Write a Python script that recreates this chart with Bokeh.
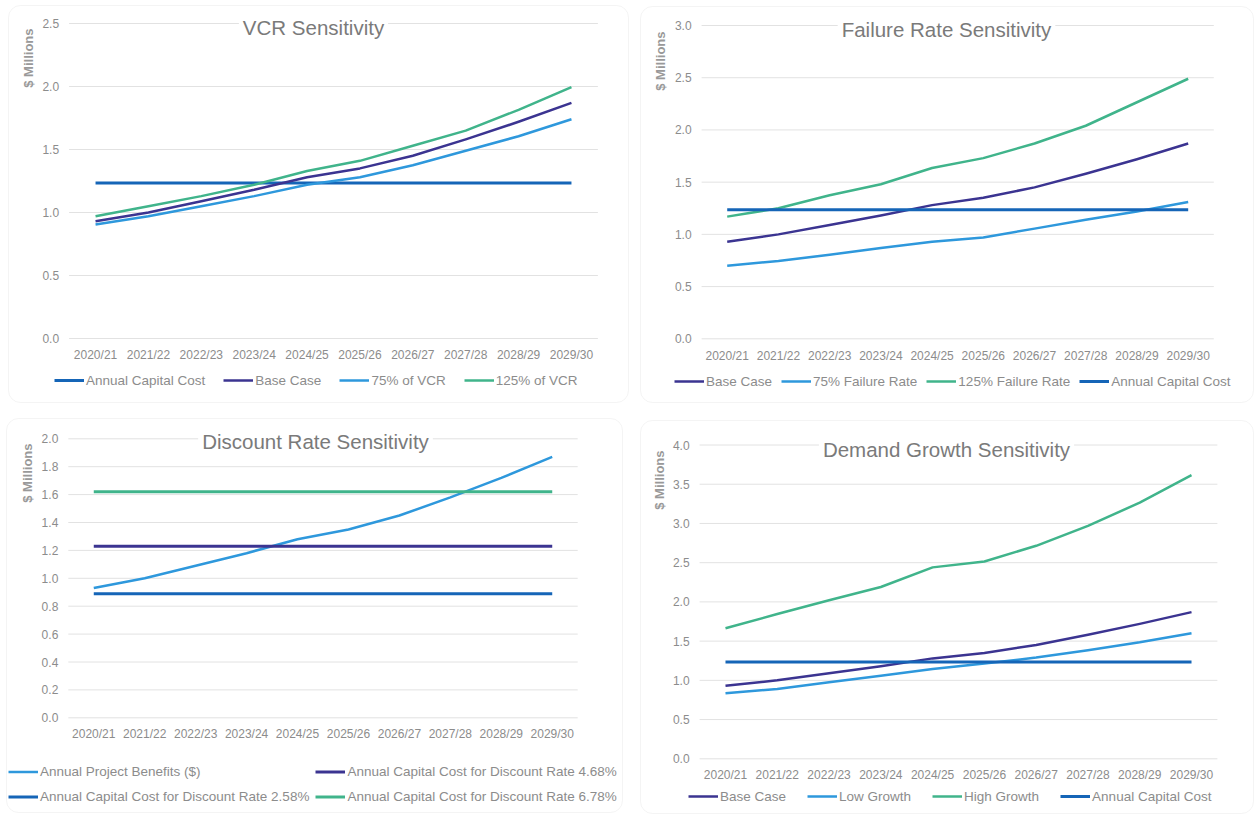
import math
from bokeh.plotting import figure
from bokeh.models import Range1d, Label, Legend, LegendItem, BoxAnnotation
from bokeh.core.properties import value
from bokeh.layouts import row, column
from bokeh.embed import file_html
from bokeh.resources import INLINE

# ---------------- data ----------------
periods = ["2020/21", "2021/22", "2022/23", "2023/24", "2024/25",
           "2025/26", "2026/27", "2027/28", "2028/29", "2029/30"]

base_case = [0.93, 1.00, 1.09, 1.18, 1.28, 1.35, 1.45, 1.58, 1.72, 1.87]
annual_capital_cost = [1.235, 1.235, 1.235, 1.235, 1.235, 1.235, 1.235, 1.235, 1.235, 1.235]

vcr_75 = [0.905, 0.97, 1.05, 1.13, 1.22, 1.28, 1.375, 1.49, 1.605, 1.74]
vcr_125 = [0.97, 1.05, 1.13, 1.22, 1.33, 1.41, 1.53, 1.65, 1.815, 1.995]

fail_75 = [0.70, 0.745, 0.805, 0.87, 0.93, 0.97, 1.055, 1.14, 1.22, 1.31]
fail_125 = [1.17, 1.25, 1.375, 1.48, 1.635, 1.73, 1.87, 2.04, 2.265, 2.49]

disc_cost_258 = [0.89, 0.89, 0.89, 0.89, 0.89, 0.89, 0.89, 0.89, 0.89, 0.89]
disc_cost_468 = [1.23, 1.23, 1.23, 1.23, 1.23, 1.23, 1.23, 1.23, 1.23, 1.23]
disc_cost_678 = [1.62, 1.62, 1.62, 1.62, 1.62, 1.62, 1.62, 1.62, 1.62, 1.62]

demand_low = [0.835, 0.89, 0.975, 1.06, 1.145, 1.215, 1.29, 1.385, 1.485, 1.60]
demand_high = [1.665, 1.845, 2.02, 2.19, 2.44, 2.515, 2.715, 2.97, 3.265, 3.615]

vcr_ticks = [0.0, 0.5, 1.0, 1.5, 2.0, 2.5]
fail_ticks = [0.0, 0.5, 1.0, 1.5, 2.0, 2.5, 3.0]
disc_ticks = [0.0, 0.2, 0.4, 0.6, 0.8, 1.0, 1.2, 1.4, 1.6, 1.8, 2.0]
demand_ticks = [0.0, 0.5, 1.0, 1.5, 2.0, 2.5, 3.0, 3.5, 4.0]

# ---------------- style ----------------
FONT = "Liberation Sans"
C_COST = "#1565B7"
C_BASE = "#3B3491"
C_LOW = "#2E98DC"
C_HIGH = "#40B48B"
TXT = "#8c8c8c"


def make_panel(title, series, ticks, box, frame, border, title_pos, ylab_pos,
               xlab_y, legend_pos, ncols=None, legend_spacing=18, item_h=16):
    X0, Y0, W, H = box
    fx0, fx1, py1, py0 = frame
    ymax = ticks[-1]
    dpp = 10.0 / (fx1 - fx0)
    dpy = ymax / (py0 - py1)

    def dx(px):
        return -0.5 + (px - fx0) * dpp

    def dy(py):
        return (py0 - py) * dpy

    p = figure(width=W, height=H,
               x_range=Range1d(dx(X0), dx(X0 + W)),
               y_range=Range1d(dy(Y0 + H), dy(Y0)),
               min_border=0, output_backend="svg", toolbar_location=None,
               background_fill_color="white", border_fill_color="white",
               outline_line_color=None)
    p.xaxis.visible = False
    p.yaxis.visible = False
    p.grid.visible = False

    # panel border
    p.add_layout(BoxAnnotation(left=dx(border[0]), right=dx(border[2]),
                               top=dy(border[1]), bottom=dy(border[3]),
                               fill_color=None, line_color="#d9d9d9",
                               line_width=1, border_radius=12, level="underlay"))

    # gridlines + y tick labels
    n = len(ticks)
    p.segment(x0=[-0.5] * n, x1=[9.5] * n, y0=ticks, y1=ticks,
              line_color="#e2e2e2", line_width=1)
    p.text(x=[dx(fx0 - 10)] * n, y=ticks, text=["%.1f" % t for t in ticks],
           text_align="right", text_baseline="middle",
           text_font=value(FONT), text_font_size="12px", text_color=TXT)

    # x category labels
    xs = list(range(len(periods)))
    p.text(x=xs, y=[dy(xlab_y)] * len(xs), text=periods,
           text_align="center", text_baseline="middle",
           text_font=value(FONT), text_font_size="12px", text_color=TXT)

    items = []
    for label, vals, color, lw in series:
        r = p.line(xs, vals, line_color=color, line_width=lw, line_join="round")
        items.append(LegendItem(label=label, renderers=[r]))

    lx, lbottom = legend_pos
    kw = dict(items=items, orientation="horizontal",
              location=(lx - X0, (Y0 + H) - lbottom),
              label_text_font=FONT, label_text_font_size="13.5px",
              label_text_color=TXT, glyph_width=30, glyph_height=item_h,
              label_height=item_h, label_standoff=2, spacing=legend_spacing,
              padding=4, margin=0, border_line_color=None,
              background_fill_alpha=0)
    if ncols:
        kw["ncols"] = ncols
    p.add_layout(Legend(**kw), "center")

    p.add_layout(Label(x=dx(title_pos[0]), y=dy(title_pos[1]), text=title,
                       text_align="center", text_baseline="middle",
                       text_font=FONT, text_font_size="20.5px",
                       text_color="#7a7a7a", background_fill_color="white",
                       padding=4))
    p.add_layout(Label(x=dx(ylab_pos[0]), y=dy(ylab_pos[1]), text="$ Millions",
                       angle=math.pi / 2, text_align="right", text_baseline="middle",
                       text_font=FONT, text_font_size="13px", text_font_style="bold",
                       text_color="#999999"))
    return p


p1 = make_panel("VCR Sensitivity",
                [("Annual Capital Cost", annual_capital_cost, C_COST, 3),
                 ("Base Case", base_case, C_BASE, 2.5),
                 ("75% of VCR", vcr_75, C_LOW, 2.5),
                 ("125% of VCR", vcr_125, C_HIGH, 2.5)],
                vcr_ticks, box=(0, 0, 634, 410), frame=(68.6, 597.4, 23.0, 338.0),
                border=(8, 5, 628, 402), title_pos=(313, 27), ylab_pos=(28, 28),
                xlab_y=354, legend_pos=(54, 388), legend_spacing=18)

p2 = make_panel("Failure Rate Sensitivity",
                [("Base Case", base_case, C_BASE, 2.5),
                 ("75% Failure Rate", fail_75, C_LOW, 2.5),
                 ("125% Failure Rate", fail_125, C_HIGH, 2.5),
                 ("Annual Capital Cost", annual_capital_cost, C_COST, 3)],
                fail_ticks, box=(634, 0, 620, 410), frame=(701.1, 1213.3, 25.0, 338.3),
                border=(640, 6, 1253, 402), title_pos=(946, 29), ylab_pos=(660, 31),
                xlab_y=355, legend_pos=(674, 389), legend_spacing=9)

p3 = make_panel("Discount Rate Sensitivity",
                [("Annual Project Benefits ($)", base_case, C_LOW, 2.5),
                 ("Annual Capital Cost for Discount Rate 4.68%", disc_cost_468, C_BASE, 3),
                 ("Annual Capital Cost for Discount Rate 2.58%", disc_cost_258, C_COST, 3),
                 ("Annual Capital Cost for Discount Rate 6.78%", disc_cost_678, C_HIGH, 3)],
                disc_ticks, box=(0, 410, 634, 404), frame=(67.8, 577.2, 438.3, 717.3),
                border=(6, 418, 622, 812), title_pos=(315, 441), ylab_pos=(27, 443),
                xlab_y=733, legend_pos=(8, 806), ncols=2, legend_spacing=6, item_h=19)

p4 = make_panel("Demand Growth Sensitivity",
                [("Base Case", base_case, C_BASE, 2.5),
                 ("Low Growth", demand_low, C_LOW, 2.5),
                 ("High Growth", demand_high, C_HIGH, 2.5),
                 ("Annual Capital Cost", annual_capital_cost, C_COST, 3)],
                demand_ticks, box=(634, 410, 620, 404), frame=(699.1, 1216.9, 444.5, 758.3),
                border=(640, 420, 1253, 813), title_pos=(946, 449), ylab_pos=(659, 450),
                xlab_y=774, legend_pos=(688, 804), legend_spacing=21)

layout = column(row(p1, p2, spacing=0), row(p3, p4, spacing=0), spacing=0)

open("out.html", "w").write(file_html(layout, INLINE))
